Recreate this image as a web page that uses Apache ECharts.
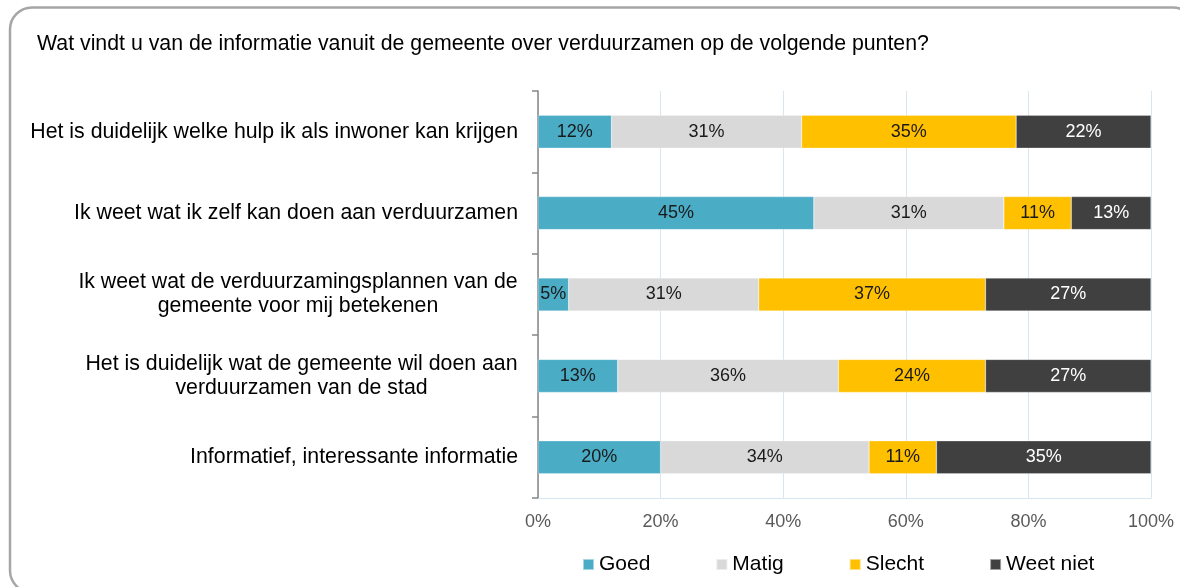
<!DOCTYPE html>
<html>
<head>
<meta charset="utf-8">
<script src="https://cdn.jsdelivr.net/npm/echarts@6/dist/echarts.min.js"></script>
<style>
html,body{margin:0;padding:0;background:#fff;}
#c{width:1180px;height:587px;}
</style>
</head>
<body>
<div id="c"></div>
<script>
const title = 'Wat vindt u van de informatie vanuit de gemeente over verduurzamen op de volgende punten?';
const categories = [
  'Het is duidelijk welke hulp ik als inwoner kan krijgen',
  'Ik weet wat ik zelf kan doen aan verduurzamen',
  'Ik weet wat de verduurzamingsplannen van de\ngemeente voor mij betekenen',
  'Het is duidelijk wat de gemeente wil doen aan\nverduurzamen van de stad',
  'Informatief, interessante informatie'
];
const seriesNames = ['Goed', 'Matig', 'Slecht', 'Weet niet'];
const goed     = [12, 45, 5, 13, 20];
const matig    = [31, 31, 31, 36, 34];
const slecht   = [35, 11, 37, 24, 11];
const weetNiet = [22, 13, 27, 27, 35];
const xTicks = [0, 20, 40, 60, 80, 100];

const FONT = "'Liberation Sans', Arial, sans-serif";
const colors = ['#4BACC6', '#D9D9D9', '#FFC000', '#404040'];
const labelColors = ['#1a1a1a', '#1a1a1a', '#1a1a1a', '#ffffff'];
const values = [goed, matig, slecht, weetNiet];

const catFont = 21.3;
const catLH = 24;
const cv = document.createElement('canvas').getContext('2d');
cv.font = catFont + 'px ' + FONT;
const rich = {};
function blockWidth(v) {
  return Math.round(Math.max(...v.split('\n').map(l => cv.measureText(l).width)) + 1);
}
categories.forEach(v => {
  if (v.indexOf('\n') >= 0) {
    const w = blockWidth(v);
    rich['c' + w] = {width: w, align: 'center', fontSize: catFont, fontFamily: FONT, color: '#000', lineHeight: catLH};
  }
});
function fmtCat(v) {
  if (v.indexOf('\n') < 0) return v;
  const w = blockWidth(v);
  return v.split('\n').map(l => '{c' + w + '|' + l + '}').join('\n');
}

const chart = echarts.init(document.getElementById('c'), null, {renderer: 'canvas'});
chart.setOption({
  animation: false,
  backgroundColor: '#fff',
  textStyle: {fontFamily: FONT},
  title: {
    text: title, left: 32, top: 29,
    textStyle: {fontSize: 21.3, fontWeight: 'normal', color: '#000', fontFamily: FONT}
  },
  graphic: [{
    type: 'rect', silent: true,
    shape: {x: 10, y: 7.5, width: 1185, height: 585, r: 22},
    style: {fill: 'none', stroke: '#a6a6a6', lineWidth: 2.5}
  }],
  legend: {
    data: seriesNames, left: 577, top: 549,
    icon: 'rect', itemWidth: 11, itemHeight: 11, itemGap: 65,
    textStyle: {fontSize: 21, color: '#000', fontFamily: FONT}
  },
  grid: {left: 538, right: 29, top: 91, bottom: 89, containLabel: false},
  xAxis: {
    type: 'value', min: 0, max: 100, interval: 20,
    axisLine: {show: true, lineStyle: {color: '#d6e7f1', width: 1}},
    axisTick: {show: false},
    splitLine: {show: true, lineStyle: {color: '#d6e7f1', width: 1}},
    axisLabel: {formatter: v => xTicks.includes(v) ? v + '%' : '', fontSize: 18, color: '#595959', margin: 15, fontFamily: FONT}
  },
  yAxis: {
    type: 'category', data: categories, inverse: true,
    axisLine: {show: true, lineStyle: {color: '#868686', width: 1.5}},
    axisTick: {show: true, length: 6, lineStyle: {color: '#868686', width: 1.5}},
    axisLabel: {formatter: fmtCat, rich: rich, fontSize: catFont, color: '#000', margin: 20, lineHeight: catLH, fontFamily: FONT}
  },
  series: seriesNames.map((n, i) => ({
    name: n, type: 'bar', stack: 'total', barWidth: 33,
    data: values[i],
    itemStyle: {color: colors[i], borderColor: 'rgba(255,255,255,0.5)', borderWidth: 0.5},
    label: {show: true, position: 'inside', formatter: p => p.value + '%', fontSize: 18, color: labelColors[i], fontFamily: FONT}
  }))
});
</script>
</body>
</html>
